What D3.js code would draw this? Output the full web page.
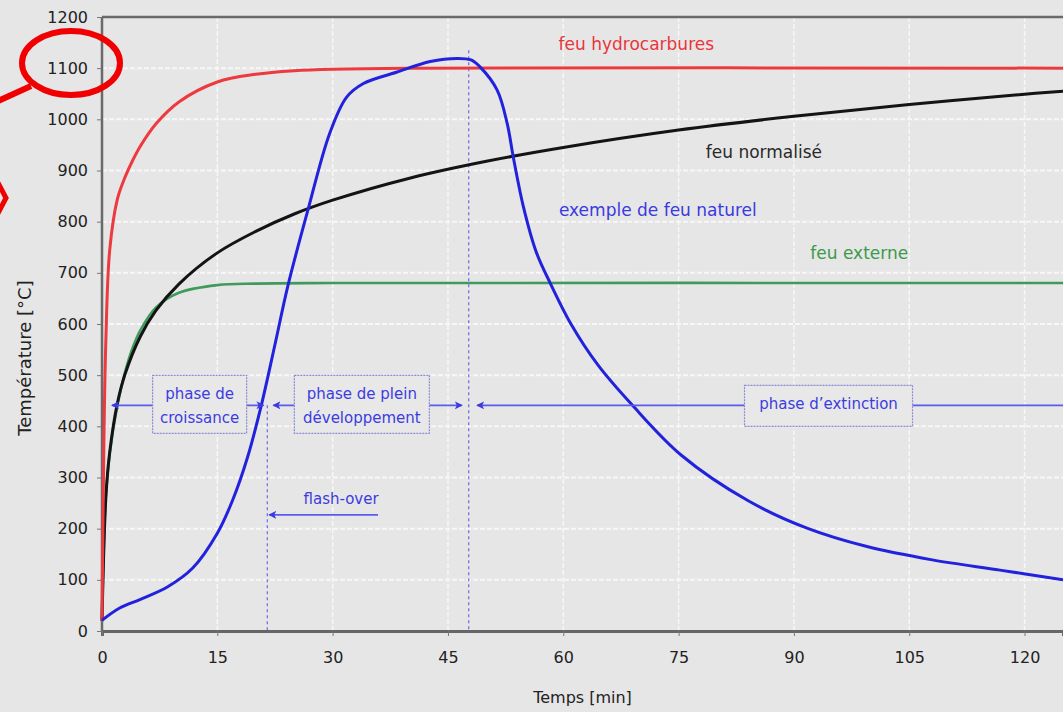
<!DOCTYPE html>
<html>
<head>
<meta charset="utf-8">
<script src="https://cdn.jsdelivr.net/npm/d3@7"></script>
<style>
  body { margin: 0; background: #e6e6e6; }
  text { font-family: "DejaVu Sans", sans-serif; }
</style>
</head>
<body>
<svg id="chart" width="1063" height="712"></svg>
<script>
// courbes : temps [min] / température [°C]
const hydroTime = [0, 0.25, 0.5, 1, 2, 3, 4, 5, 7, 10, 15, 20, 25, 30, 40, 125]
const hydroTemp = [20, 373, 567, 744, 844, 887, 920, 948, 991, 1034, 1073, 1088, 1095, 1098, 1100, 1100]

const isoTime = [0, 0.5, 1, 2, 3, 5, 7, 10, 15, 20, 25, 30, 40, 50, 60, 75, 90, 105, 120, 125]
const isoTemp = [20, 261, 349, 445, 502, 576, 626, 678, 739, 781, 815, 842, 885, 918, 945, 979, 1006, 1029, 1049, 1055]

const extTime = [0, 0.5, 1, 2, 3, 4, 5, 7, 10, 15, 20, 30, 125]
const extTemp = [20, 263, 346, 441, 506, 554, 588, 632, 661, 676, 679, 680, 680]

const natTime = [0, 2.3, 5, 8.5, 11.8, 15, 17, 18.9, 20.8, 22.5, 24.2, 26.7, 29.6, 31.8, 34, 38.3, 42.7, 46.2, 48, 49.2, 51.4, 52.7, 53.5, 54.8, 56.5, 58.3, 61, 64.5, 69, 75.4, 84, 91.7, 99.5, 108, 116.8, 125]
const natTemp = [21, 45, 62, 86, 123, 191, 256, 338, 446, 560, 676, 818, 972, 1043, 1070, 1092, 1113, 1119, 1116, 1102, 1057, 992, 926, 830, 740, 680, 600, 520, 441, 343, 255, 201, 165, 139, 119, 100]

const xTicks = [0, 15, 30, 45, 60, 75, 90, 105, 120]
const yTicks = [0, 100, 200, 300, 400, 500, 600, 700, 800, 900, 1000, 1100, 1200]

// phases
const phaseLevel = 441
const phases = [
	{ name: ['phase de', 'croissance'], from: 1.3, to: 21, box: 12.7, w: 94 },
	{ name: ['phase de plein', 'développement'], from: 22.3, to: 46.8, box: 33.8, w: 135 },
	{ name: ['phase d\u2019extinction'], from: 48.8, to: 126, box: 94.5, w: 168 }
]
const flashOver = 21.5
const endFull = 47.7

const seriesLabels = [
	{ text: 'feu hydrocarbures', t: 69.5, v: 1135, color: '#e8363a' },
	{ text: 'feu normalisé', t: 86.1, v: 924, color: '#2a2a2a' },
	{ text: 'exemple de feu naturel', t: 72.3, v: 811, color: '#3a3ae0' },
	{ text: 'feu externe', t: 98.5, v: 727, color: '#3c9a4a' }
]

let width = 1063
let height = 712
let mLeft = 102, mRight = 1063, mTop = 17, mBottom = 631

let x = d3.scaleLinear().domain([0, 125]).range([mLeft, mRight])
let y = d3.scaleLinear().domain([0, 1200]).range([mBottom, mTop])

const svg = d3.select('#chart')

svg.append('rect').attr('width', width).attr('height', height).attr('fill', '#e6e6e6')

// grille
svg.selectAll('.hgrid')
	.data(yTicks.filter(d => d > 0 && d < 1200))
	.enter()
	.append('line')
	.attr('x1', mLeft).attr('x2', mRight)
	.attr('y1', d => y(d)).attr('y2', d => y(d))
	.attr('stroke', '#f7f7f7')
	.attr('stroke-width', 2)
	.attr('stroke-dasharray', '5,2')

svg.selectAll('.vgrid')
	.data(xTicks.filter(d => d > 0))
	.enter()
	.append('line')
	.attr('x1', d => x(d)).attr('x2', d => x(d))
	.attr('y1', mTop).attr('y2', mBottom)
	.attr('stroke', '#f7f7f7')
	.attr('stroke-width', 1.5)
	.attr('stroke-dasharray', '5,2')

// axes
let xAxis = g => g.attr('transform', `translate(0,${mBottom})`)
	.call(d3.axisBottom(x).tickValues(xTicks).tickSize(5).tickPadding(16).tickFormat(d3.format('d')))

let yAxis = g => g.attr('transform', `translate(${mLeft},0)`)
	.call(d3.axisLeft(y).tickValues(yTicks).tickSize(5).tickPadding(9).tickFormat(d3.format('d')))

let xG = svg.append('g').call(xAxis)
xG.selectAll('text').attr('fill', '#222').attr('font-size', 16)
xG.selectAll('line').attr('stroke', '#777')
xG.select('.domain').attr('stroke', '#666').attr('stroke-width', 3)

let yG = svg.append('g').call(yAxis)
yG.selectAll('text').attr('fill', '#222').attr('font-size', 16)
yG.selectAll('line').attr('stroke', '#777')
yG.select('.domain').remove()

svg.append('line')
	.attr('x1', mLeft).attr('x2', mLeft).attr('y1', mTop).attr('y2', mBottom)
	.attr('stroke', '#6a6a6a').attr('stroke-width', 2.5)
svg.append('line')
	.attr('x1', mLeft).attr('x2', mRight).attr('y1', mTop).attr('y2', mTop)
	.attr('stroke', '#6a6a6a').attr('stroke-width', 2.5)

svg.append('text')
	.attr('x', x(62.5)).attr('y', 703)
	.attr('text-anchor', 'middle')
	.attr('font-size', 16)
	.attr('fill', '#222')
	.text('Temps [min]')

svg.append('text')
	.attr('transform', 'translate(31,358) rotate(-90)')
	.attr('text-anchor', 'middle')
	.attr('font-size', 18)
	.attr('fill', '#222')
	.text('Température [°C]')

// lignes verticales pointillées
svg.append('line')
	.attr('x1', x(flashOver)).attr('x2', x(flashOver))
	.attr('y1', y(phaseLevel)).attr('y2', mBottom)
	.attr('stroke', '#6a6ae8').attr('stroke-width', 1.2)
	.attr('stroke-dasharray', '3,3')
svg.append('line')
	.attr('x1', x(endFull)).attr('x2', x(endFull))
	.attr('y1', y(1135)).attr('y2', mBottom)
	.attr('stroke', '#6a6ae8').attr('stroke-width', 1.2)
	.attr('stroke-dasharray', '3,3')

// courbes
let line = d3.line()
	.curve(d3.curveCatmullRom.alpha(0.5))
	.x(d => x(d[0]))
	.y(d => y(d[1]))

let curves = [
	{ t: extTime, v: extTemp, color: '#3f9a5c', w: 2.6 },
	{ t: isoTime, v: isoTemp, color: '#141414', w: 3 },
	{ t: hydroTime, v: hydroTemp, color: '#ec3a3f', w: 3 },
	{ t: natTime, v: natTemp, color: '#2222dd', w: 3 }
]

svg.selectAll('.curve')
	.data(curves)
	.enter()
	.append('path')
	.attr('class', 'curve')
	.attr('d', d => line(d.t.map((t, i) => [t, d.v[i]])))
	.attr('fill', 'none')
	.attr('stroke', d => d.color)
	.attr('stroke-width', d => d.w)

// flèches de phases
let defs = svg.append('defs')
defs.append('marker')
	.attr('id', 'head')
	.attr('refX', 7).attr('refY', 4)
	.attr('markerWidth', 10).attr('markerHeight', 10)
	.attr('markerUnits', 'userSpaceOnUse')
	.attr('orient', 'auto-start-reverse')
	.append('path')
	.attr('d', 'M 0 0 8 4 0 8 2 4 Z')
	.style('fill', '#3a3ae0')

svg.selectAll('.phaseLine')
	.data(phases)
	.enter()
	.append('line')
	.attr('x1', d => x(d.from)).attr('x2', d => x(d.to))
	.attr('y1', y(phaseLevel)).attr('y2', y(phaseLevel))
	.attr('stroke', '#5a5aee')
	.attr('stroke-width', 1.6)
	.attr('marker-start', 'url(#head)')
	.attr('marker-end', (d, i) => i < 2 ? 'url(#head)' : null)

let boxes = svg.selectAll('.phaseBox')
	.data(phases)
	.enter()
	.append('g')
	.attr('transform', d => `translate(${x(d.box)},${y(phaseLevel)})`)

boxes.append('rect')
	.attr('x', d => -d.w / 2)
	.attr('y', d => d.name.length > 1 ? -30 : -20)
	.attr('width', d => d.w)
	.attr('height', d => d.name.length > 1 ? 58 : 41)
	.attr('fill', '#e8e8e8')
	.attr('stroke', '#8a8ad8')
	.attr('stroke-width', 1.2)
	.attr('stroke-dasharray', '2,1')

boxes.each(function(d){
	let g = d3.select(this)
	d.name.forEach(function(s, i){
		g.append('text')
			.attr('x', 0)
			.attr('y', d.name.length > 1 ? -11 + i * 24 : -1)
			.attr('text-anchor', 'middle')
			.attr('dominant-baseline', 'middle')
			.attr('font-size', 15)
			.attr('fill', '#3c3ce0')
			.text(s)
	})
})

// flash-over
svg.append('line')
	.attr('x1', x(flashOver) + 2).attr('x2', x(35.9))
	.attr('y1', y(227)).attr('y2', y(227))
	.attr('stroke', '#5a5aee')
	.attr('stroke-width', 1.6)
	.attr('marker-start', 'url(#head)')
svg.append('text')
	.attr('x', x(31.1)).attr('y', y(227) - 15)
	.attr('text-anchor', 'middle')
	.attr('dominant-baseline', 'middle')
	.attr('font-size', 15)
	.attr('fill', '#3c3ce0')
	.text('flash-over')

// étiquettes des courbes
svg.selectAll('.seriesLabel')
	.data(seriesLabels)
	.enter()
	.append('text')
	.attr('x', d => x(d.t)).attr('y', d => y(d.v))
	.attr('text-anchor', 'middle')
	.attr('font-size', 17)
	.attr('fill', d => d.color)
	.text(d => d.text)

// annotation rouge
svg.append('ellipse')
	.attr('cx', 71).attr('cy', 63).attr('rx', 49).attr('ry', 32)
	.attr('fill', 'none')
	.attr('stroke', '#f00000')
	.attr('stroke-width', 6)
svg.append('line')
	.attr('x1', 31).attr('y1', 86).attr('x2', -4).attr('y2', 102)
	.attr('stroke', '#f00000')
	.attr('stroke-width', 6)
svg.append('path')
	.attr('d', 'M -3 181 L 6 198 L -3 215')
	.attr('fill', 'none')
	.attr('stroke', '#f00000')
	.attr('stroke-width', 5)
</script>
</body>
</html>
